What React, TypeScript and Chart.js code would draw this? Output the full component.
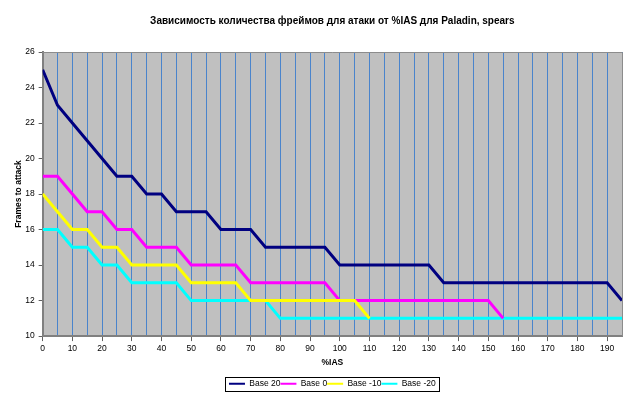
import React, { useEffect, useRef } from "react";
import { Chart, registerables } from "chart.js";

Chart.register(...registerables);

const TITLE = "Зависимость количества фреймов для атаки от %IAS для Paladin, spears";
const X_TITLE = "%IAS";
const Y_TITLE = "Frames to attack";

const iasValues = [
  0, 5, 10, 15, 20, 25, 30, 35, 40, 45, 50, 55, 60, 65, 70, 75, 80, 85, 90, 95,
  100, 105, 110, 115, 120, 125, 130, 135, 140, 145, 150, 155, 160, 165, 170, 175, 180, 185, 190, 195,
];

const seriesNames = ["Base 20", "Base 0", "Base -10", "Base -20"];
const seriesColors = ["#000080", "#ff00ff", "#ffff00", "#00ffff"];

const base20 = [
  25, 23, 22, 21, 20, 19, 19, 18, 18, 17, 17, 17, 16, 16, 16, 15, 15, 15, 15, 15,
  14, 14, 14, 14, 14, 14, 14, 13, 13, 13, 13, 13, 13, 13, 13, 13, 13, 13, 13, 12,
];
const base0 = [
  19, 19, 18, 17, 17, 16, 16, 15, 15, 15, 14, 14, 14, 14, 13, 13, 13, 13, 13, 13,
  12, 12, 12, 12, 12, 12, 12, 12, 12, 12, 12, 11,
];
const baseMinus10 = [
  18, 17, 16, 16, 15, 15, 14, 14, 14, 14, 13, 13, 13, 13, 12, 12, 12, 12, 12, 12,
  12, 12, 11,
];
const baseMinus20 = [
  16, 16, 15, 15, 14, 14, 13, 13, 13, 13, 12, 12, 12, 12, 12, 12, 11, 11, 11, 11,
  11, 11, 11, 11, 11, 11, 11, 11, 11, 11, 11, 11, 11, 11, 11, 11, 11, 11, 11, 11,
];

const seriesValues = [base20, base0, baseMinus10, baseMinus20];
const seriesOrder = [0, 0, -1, 0];

const X_MIN = 0;
const X_MAX = 195;
const Y_MIN = 10;
const Y_MAX = 26;

const FONT = "'Liberation Sans', Arial, sans-serif";

const plotFrame = {
  id: "plotFrame",
  beforeDraw(chart: any) {
    const { ctx, chartArea: a } = chart;
    ctx.save();
    ctx.fillStyle = "#c0c0c0";
    ctx.fillRect(a.left, a.top, a.right - a.left, a.bottom - a.top);
    ctx.restore();
  },
  beforeDatasetsDraw(chart: any) {
    const { ctx, chartArea: a } = chart;
    ctx.save();
    ctx.strokeStyle = "#8c8c8c";
    ctx.lineWidth = 1;
    ctx.beginPath();
    ctx.moveTo(a.left, a.top + 0.5);
    ctx.lineTo(a.right + 0.5, a.top + 0.5);
    ctx.lineTo(a.right + 0.5, a.bottom);
    ctx.stroke();
    ctx.restore();
  },
  afterDraw(chart: any) {
    const lg = chart.legend;
    if (!lg || !lg.legendHitBoxes || !lg.legendHitBoxes.length) return;
    const hb = lg.legendHitBoxes;
    let l = Infinity, r = -Infinity, t = Infinity, b = -Infinity;
    hb.forEach((h: any) => {
      l = Math.min(l, h.left);
      r = Math.max(r, h.left + h.width);
      t = Math.min(t, h.top);
      b = Math.max(b, h.top + h.height);
    });
    const ctx = chart.ctx;
    ctx.save();
    ctx.strokeStyle = "#000000";
    ctx.lineWidth = 1;
    ctx.strokeRect(Math.round(l - 4) + 0.5, Math.round(t - 3) + 0.5, Math.round(r - l + 7), Math.round(b - t + 5));
    ctx.restore();
  },
};

export default function App() {
  const ref = useRef<HTMLCanvasElement | null>(null);

  useEffect(() => {
    if (!ref.current) return;
    const datasets = seriesValues.map((vals, i) => ({
      label: seriesNames[i],
      data: vals.map((y, j) => ({ x: iasValues[j], y })),
      borderColor: seriesColors[i],
      backgroundColor: seriesColors[i],
      borderWidth: 3,
      pointRadius: 0,
      tension: 0,
      fill: false,
      order: seriesOrder[i],
    }));

    const defaultLabels = (Chart as any).defaults.plugins.legend.labels.generateLabels;

    const chart = new Chart(ref.current, {
      type: "line",
      data: { datasets },
      plugins: [plotFrame],
      options: {
        responsive: false,
        animation: false,
        devicePixelRatio: 1,
        layout: { padding: { left: 4, right: 18, top: 6, bottom: 1 } },
        plugins: {
          title: {
            display: true,
            text: TITLE,
            fullSize: false,
            color: "#000000",
            font: { family: FONT, size: 10, weight: "bold" },
            padding: { top: 9, bottom: 25 },
          },
          legend: {
            display: true,
            position: "bottom",
            fullSize: false,
            labels: {
              color: "#000000",
              font: { family: FONT, size: 8.5 },
              boxWidth: 16,
              boxHeight: 2,
              padding: 0,
              sort: (a: any, b: any) => a.datasetIndex - b.datasetIndex,
              generateLabels: (chart: any) =>
                defaultLabels(chart).map((it: any) => ({ ...it, lineWidth: 0, strokeStyle: "rgba(0,0,0,0)" })),
            },
          },
          tooltip: { enabled: false },
        },
        scales: {
          x: {
            type: "linear",
            min: X_MIN,
            max: X_MAX,
            border: { display: true, color: "#808080", width: 2 },
            grid: {
              display: true,
              drawOnChartArea: true,
              drawTicks: true,
              color: "#4a84cc",
              lineWidth: 1,
              tickLength: 5,
              tickColor: (c: any) => (c.tick && c.tick.value % 10 === 0 ? "#606060" : "rgba(0,0,0,0)"),
            },
            ticks: {
              stepSize: 5,
              autoSkip: false,
              maxRotation: 0,
              color: "#000000",
              padding: 2,
              font: { family: FONT, size: 8.5 },
              callback: (v: any) => (Number(v) % 10 === 0 ? String(v) : ""),
            },
            title: {
              display: true,
              text: X_TITLE,
              color: "#000000",
              font: { family: FONT, size: 8.5, weight: "bold" },
              padding: { top: 2, bottom: 12 },
            },
          },
          y: {
            type: "linear",
            min: Y_MIN,
            max: Y_MAX,
            border: { display: true, color: "#808080", width: 2 },
            grid: {
              display: true,
              drawOnChartArea: false,
              drawTicks: true,
              tickLength: 4,
              tickColor: "#606060",
            },
            ticks: {
              stepSize: 2,
              color: "#000000",
              padding: 4,
              font: { family: FONT, size: 8.5 },
            },
            title: {
              display: true,
              text: Y_TITLE,
              color: "#000000",
              font: { family: FONT, size: 8.5, weight: "bold" },
              padding: { top: 10, bottom: -3 },
            },
          },
        },
      },
    });
    return () => chart.destroy();
  }, []);

  return (
    <div style={{ position: "fixed", left: 0, top: 0, width: 640, height: 399, background: "#ffffff" }}>
      <canvas ref={ref} width={640} height={399} style={{ display: "block", width: 640, height: 399 }} />
    </div>
  );
}
